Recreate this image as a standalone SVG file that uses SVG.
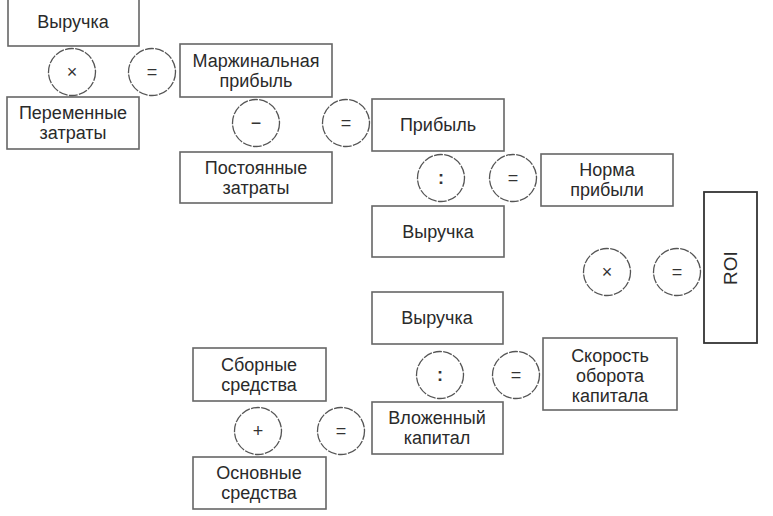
<svg xmlns="http://www.w3.org/2000/svg" width="773" height="516" viewBox="0 0 773 516">
<style>
.box{fill:#fff;stroke:#666;stroke-width:1.6}
.roi{fill:#fff;stroke:#333;stroke-width:1.8}
.op{fill:#fff;stroke:#555;stroke-width:1.3;stroke-dasharray:9 1.3}
text{font-family:"Liberation Sans",Arial,sans-serif;font-size:18px;fill:#2a2a2a;text-anchor:middle}
.sym{font-size:18px;fill:#333}
.bold{font-weight:bold}
.roit{font-size:19px}
</style>
<rect width="773" height="516" fill="#fff"/>
<g id="n-vyruchka1"><rect class="box" x="8" y="-2" width="131" height="48"/><text x="73" y="28">Выручка</text></g>
<g id="n-peremennye"><rect class="box" x="7" y="97" width="132" height="52"/><text x="73" y="119">Переменные</text><text x="73" y="139">затраты</text></g>
<g id="n-marzh"><rect class="box" x="180" y="44" width="152" height="53"/><text x="256" y="67">Маржинальная</text><text x="256" y="87">прибыль</text></g>
<g id="n-postoyannye"><rect class="box" x="180" y="152" width="152" height="51"/><text x="256" y="174">Постоянные</text><text x="256" y="194">затраты</text></g>
<g id="n-pribyl"><rect class="box" x="372" y="99" width="132" height="52"/><text x="438" y="131">Прибыль</text></g>
<g id="n-norma"><rect class="box" x="541" y="154" width="132" height="52"/><text x="607" y="176">Норма</text><text x="607" y="196">прибыли</text></g>
<g id="n-vyruchka2"><rect class="box" x="372" y="206" width="132" height="51"/><text x="438" y="238">Выручка</text></g>
<g id="n-roi"><rect class="roi" x="704" y="192" width="53" height="151"/><text class="roit" transform="translate(737,268) rotate(-90)" x="0" y="0">ROI</text></g>
<g id="n-vyruchka3"><rect class="box" x="372" y="292" width="131" height="52"/><text x="437" y="324">Выручка</text></g>
<g id="n-sbornye"><rect class="box" x="193" y="348" width="133" height="53"/><text x="259" y="371">Сборные</text><text x="259" y="391">средства</text></g>
<g id="n-skorost"><rect class="box" x="543" y="338" width="134" height="72"/><text x="610" y="362">Скорость</text><text x="610" y="382">оборота</text><text x="610" y="402">капитала</text></g>
<g id="n-vlozhenny"><rect class="box" x="372" y="402" width="131" height="52"/><text x="437" y="424">Вложенный</text><text x="437" y="444">капитал</text></g>
<g id="n-osnovnye"><rect class="box" x="193" y="457" width="133" height="52"/><text x="259" y="479">Основные</text><text x="259" y="499">средства</text></g>
<g id="op-mul1"><circle class="op" cx="72" cy="72" r="23.5"/><text class="sym" x="72" y="78">×</text></g>
<g id="op-eq1"><circle class="op" cx="152" cy="72" r="23.5"/><text class="sym" x="152" y="78">=</text></g>
<g id="op-minus"><circle class="op" cx="256" cy="123" r="23.5"/><text class="sym" x="256" y="129">−</text></g>
<g id="op-eq2"><circle class="op" cx="346" cy="123" r="23.5"/><text class="sym" x="346" y="129">=</text></g>
<g id="op-div1"><circle class="op" cx="441" cy="178" r="23.5"/><text class="sym bold" x="441" y="184">:</text></g>
<g id="op-eq3"><circle class="op" cx="513" cy="178" r="23.5"/><text class="sym" x="513" y="184">=</text></g>
<g id="op-mul2"><circle class="op" cx="607" cy="272" r="23.5"/><text class="sym" x="607" y="278">×</text></g>
<g id="op-eq4"><circle class="op" cx="677" cy="272" r="23.5"/><text class="sym" x="677" y="278">=</text></g>
<g id="op-div2"><circle class="op" cx="440" cy="375" r="23.5"/><text class="sym bold" x="440" y="381">:</text></g>
<g id="op-eq5"><circle class="op" cx="516" cy="375" r="23.5"/><text class="sym" x="516" y="381">=</text></g>
<g id="op-plus"><circle class="op" cx="258" cy="431" r="23.5"/><text class="sym" x="258" y="437">+</text></g>
<g id="op-eq6"><circle class="op" cx="341" cy="431" r="23.5"/><text class="sym" x="341" y="437">=</text></g>
</svg>
